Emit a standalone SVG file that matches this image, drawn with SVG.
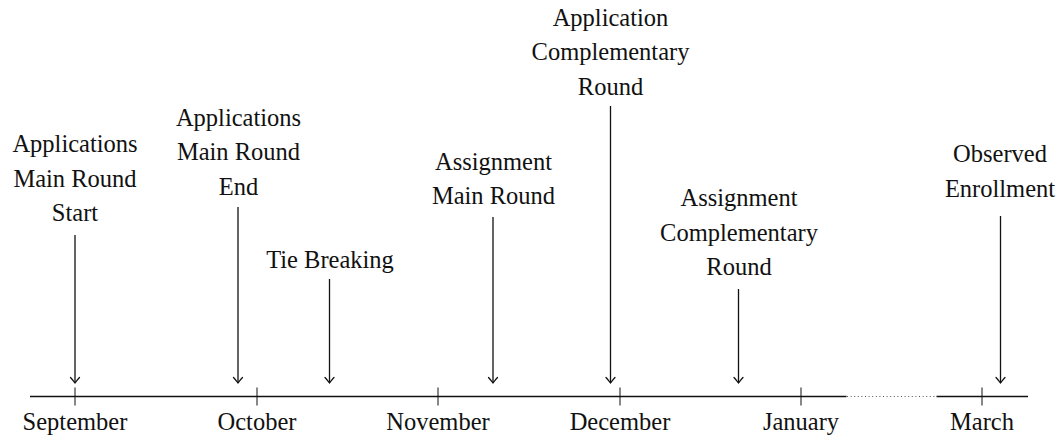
<svg xmlns="http://www.w3.org/2000/svg" width="1063" height="440" viewBox="0 0 1063 440">
<style>
text{font-family:"Liberation Serif","Times New Roman",serif;font-size:24.5px;fill:#111;text-anchor:middle}
.axis{stroke:#111;stroke-width:1.6;fill:none}
.dot{stroke:#555;stroke-width:1;stroke-dasharray:1 2.6;fill:none}
.tick{stroke:#111;stroke-width:1;fill:none}
.arr{stroke:#111;stroke-width:1.3;fill:none;marker-end:url(#to)}
</style>
<defs>
<marker id="to" markerUnits="userSpaceOnUse" viewBox="-7 -6 8 12" markerWidth="8" markerHeight="12" refX="0" refY="0" orient="auto">
<path d="M-5.5,-4.5 Q-1.5,-1 0,0 Q-1.5,1 -5.5,4.5" stroke="#111" stroke-width="1.2" fill="none" stroke-linecap="round"/>
</marker>
</defs>
<g id="timeline">
<path class="axis" d="M30,396.5 H846.5 M936.5,396.5 H1028"/>
<path class="dot" d="M847,396.5 H936"/>
<path class="tick" d="M75,387.5 V405.5 M257,387.5 V405.5 M438,387.5 V405.5 M620,387.5 V405.5 M801,387.5 V405.5 M982,387.5 V405.5"/>
</g>
<g id="month-september"><text x="75" y="430">September</text></g>
<g id="month-october"><text x="257" y="430">October</text></g>
<g id="month-november"><text x="438" y="430">November</text></g>
<g id="month-december"><text x="620" y="430">December</text></g>
<g id="month-january"><text x="801" y="430">January</text></g>
<g id="month-march"><text x="982" y="430">March</text></g>
<g id="ev-app-start"><text x="75" y="152">Applications</text><text x="75" y="187">Main Round</text><text x="75" y="221">Start</text></g>
<g id="ev-app-end"><text x="238.5" y="125.5">Applications</text><text x="238.5" y="160">Main Round</text><text x="238.5" y="194.5">End</text></g>
<g id="ev-tie"><text x="330" y="267.5">Tie Breaking</text></g>
<g id="ev-assign-main"><text x="493.5" y="169.5">Assignment</text><text x="493.5" y="203.5">Main Round</text></g>
<g id="ev-app-compl"><text x="610.5" y="26">Application</text><text x="610.5" y="60">Complementary</text><text x="610.5" y="94.5">Round</text></g>
<g id="ev-assign-compl"><text x="739" y="206">Assignment</text><text x="739" y="240.5">Complementary</text><text x="739" y="275">Round</text></g>
<g id="ev-enroll"><text x="1000" y="162">Observed</text><text x="1000" y="196.5">Enrollment</text></g>
<g id="connectors">
<line class="arr" x1="75" y1="235" x2="75" y2="383"/>
<line class="arr" x1="238" y1="207" x2="238" y2="383"/>
<line class="arr" x1="329.5" y1="279" x2="329.5" y2="383"/>
<line class="arr" x1="493" y1="217" x2="493" y2="383"/>
<line class="arr" x1="610.5" y1="106" x2="610.5" y2="383"/>
<line class="arr" x1="738.5" y1="289" x2="738.5" y2="383"/>
<line class="arr" x1="1000.5" y1="216" x2="1000.5" y2="383"/>
</g>
</svg>
